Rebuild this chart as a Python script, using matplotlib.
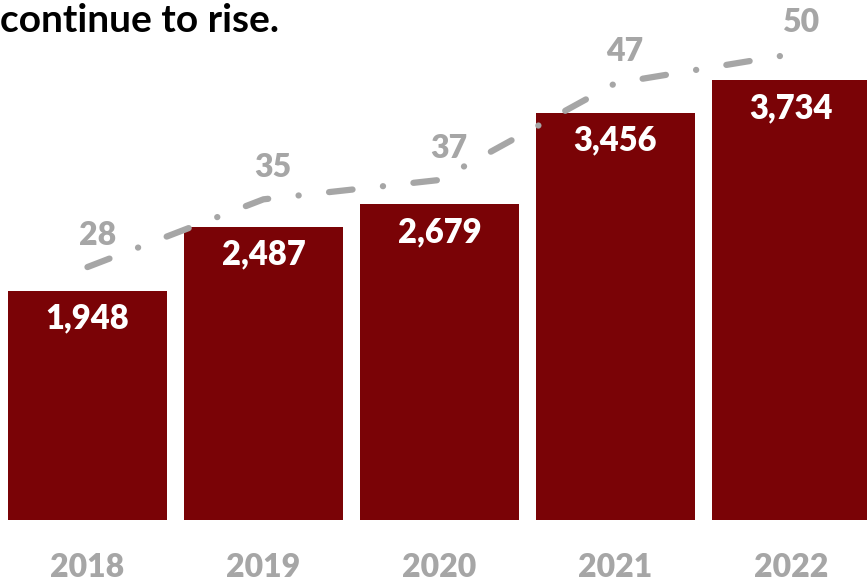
import matplotlib.pyplot as plt
import matplotlib.transforms as mtransforms

# Annual figures: bars (count) and dashed line (second measure)
years = ["2018", "2019", "2020", "2021", "2022"]
bar_values = [1948, 2487, 2679, 3456, 3734]
line_values = [28, 35, 37, 47, 50]

BAR_COLOR = "#7A0306"
GRAY = "#A6A6A6"
FONT = "Lato"

plt.rcParams["font.family"] = [FONT, "DejaVu Sans"]
plt.rcParams["lines.scale_dashes"] = False

W, H = 867, 584
fig = plt.figure(figsize=(W / 100, H / 100), dpi=100)

# axes spans the full width; bottom sits at the bars' baseline
bottom_px = 64
ax = fig.add_axes([0, bottom_px / H, 1, 1 - bottom_px / H])
x = list(range(len(years)))
ax.set_xlim(-0.497, 4.43)
ax.set_ylim(0, 4414)
ax.axis("off")

bars = ax.bar(x, bar_values, width=0.9, color=BAR_COLOR)
for xi, v in zip(x, bar_values):
    ax.annotate(f"{v:,}", (xi, v), xytext=(0, -20), textcoords="offset points",
                ha="center", va="center", color="white", fontsize=23.5,
                fontweight="heavy")

# year labels under the bars
trans = mtransforms.blended_transform_factory(ax.transData, ax.transAxes)
for xi, yr in zip(x, years):
    ax.annotate(yr, (xi, 0), xycoords=trans, xytext=(0, -34),
                textcoords="offset points", ha="center", va="center",
                color=GRAY, fontsize=23, fontweight="heavy")

# secondary axis for the dashed line
ax2 = ax.twinx()
ax2.set_ylim(1.86, 55.6)
ax2.axis("off")
ax2.plot(x, line_values, color=GRAY, linewidth=4.5,
         linestyle=(0, (17, 22, 0.1, 22)), dash_capstyle="round",
         solid_capstyle="round")
for xi, v in zip(x, line_values):
    ax2.annotate(str(v), (xi, v), xytext=(7, 23), textcoords="offset points",
                 ha="center", va="center", color=GRAY, fontsize=23,
                 fontweight="heavy")

fig.text(0, 1 - 32 / H, "continue to rise.", ha="left", va="baseline",
         fontsize=28, fontweight="bold", color="black")

fig.savefig("out.png", dpi=100)
